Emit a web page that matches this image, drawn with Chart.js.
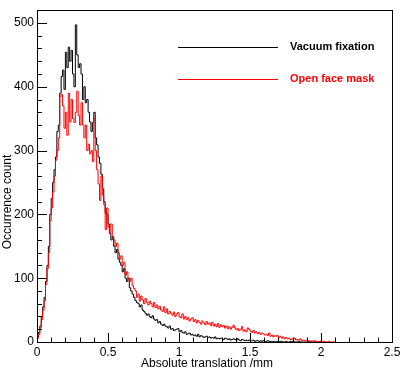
<!DOCTYPE html>
<html>
<head>
<meta charset="utf-8">
<script src="https://cdn.jsdelivr.net/npm/chart.js@4"></script>
<style>
  html, body { margin: 0; padding: 0; background: #fff; }
  canvas { display: block; }
</style>
</head>
<body>
<canvas id="chart" width="400" height="372"></canvas>
<script>
// histogram binning
const binWidth = 0.01;

// Vacuum fixation counts per 0.01 mm bin, starting at 0
const vacuumCounts = [
    3, 8, 15, 25, 40, 55, 70, 95, 120, 150,
    200, 225, 250, 270, 290, 330, 340, 390, 416, 426,
    396, 454, 430, 462, 440, 457, 420, 400, 497, 450,
    430, 436, 420, 380, 400, 375, 380, 360, 345, 330,
    344, 360, 320, 309, 290, 280, 263, 240, 220, 202,
    200, 185, 170, 160, 165, 150, 140, 145, 130, 125,
    120, 110, 115, 100, 95, 100, 85, 80, 75, 70,
    65, 62, 60, 55, 58, 50, 48, 45, 42, 44,
    40, 38, 41, 36, 34, 35, 30, 32, 28, 26,
    28, 25, 24, 22, 25, 20, 21, 18, 19, 20,
    21, 16, 18, 15, 14, 16, 12, 13, 14, 11,
    12, 10, 11, 9, 12, 8, 10, 9, 7, 8,
    9, 7, 8, 6, 7, 6, 8, 5, 6, 5,
    6, 5, 4, 6, 5, 4, 5, 3, 4, 5,
    4, 3, 5, 3, 2, 4, 3, 2, 3, 2,
    3, 2, 2, 3, 1, 2, 2, 1, 2, 1,
    2, 1, 1, 2, 1, 1, 0, 1, 1, 0,
    1, 0, 1, 1, 0, 0, 1, 0, 0, 1,
    0, 1, 0, 0, 0, 1, 0, 0, 0, 0,
    0, 0, 1, 0, 0, 0, 0, 0, 0, 0,
    1, 0
];

// Open face mask counts per 0.01 mm bin, starting at 0
const maskCounts = [
    2, 6, 12, 22, 35, 50, 65, 90, 115, 140,
    190, 210, 235, 260, 285, 300, 320, 385, 388, 370,
    335, 360, 324, 390, 345, 380, 350, 344, 360, 393,
    355, 340, 375, 340, 320, 340, 300, 310, 295, 300,
    283, 350, 300, 270, 248, 222, 260, 230, 215, 176,
    210, 180, 171, 185, 165, 160, 150, 155, 140, 130,
    135, 120, 125, 105, 110, 100, 95, 100, 88, 84,
    80, 70, 75, 64, 72, 66, 60, 68, 62, 58,
    64, 60, 55, 62, 54, 58, 52, 56, 50, 48,
    55, 46, 52, 44, 48, 45, 42, 47, 40, 44,
    46, 40, 38, 44, 36, 40, 35, 38, 33, 36,
    38, 32, 35, 30, 34, 31, 28, 33, 30, 27,
    32, 28, 30, 26, 31, 25, 28, 24, 29, 23,
    27, 24, 26, 22, 25, 21, 24, 20, 23, 26,
    22, 19, 21, 18, 20, 24, 17, 19, 16, 22,
    20, 17, 15, 18, 14, 16, 13, 15, 12, 14,
    13, 11, 12, 10, 14, 9, 11, 8, 10, 9,
    10, 7, 9, 6, 8, 5, 7, 5, 6, 4,
    5, 4, 6, 3, 4, 3, 5, 2, 3, 2,
    3, 2, 2, 1, 2, 1, 2, 1, 1, 0,
    1, 1, 0, 1, 0, 0, 1, 0, 0, 0
];

const seriesLabels = ["Vacuum fixation", "Open face mask"];
const seriesColors = ["#000000", "#ff0000"];

const xTicks = [0, 0.5, 1, 1.5, 2, 2.5];
const yTicks = [0, 100, 200, 300, 400, 500];
const xTitle = "Absolute translation /mm";
const yTitle = "Occurrence count";

const FONT = "'Liberation Sans', Arial, Helvetica, sans-serif";

// turn bin contents into step points (left edges + closing edge)
function toSteps(counts) {
    const pts = counts.map((v, i) => ({ x: i * binWidth, y: v }));
    pts.push({ x: counts.length * binWidth, y: 0 });
    return pts;
}

// ROOT-like frame: box, inward ticks, axis titles, legend
const rootFrame = {
    id: 'rootFrame',
    afterDraw(chart) {
        const ctx = chart.ctx;
        const a = chart.chartArea;
        const xs = chart.scales.x;
        const ys = chart.scales.y;
        ctx.save();
        ctx.strokeStyle = "#000";
        ctx.lineWidth = 1;
        ctx.strokeRect(Math.round(a.left) + 0.5, Math.round(a.top) + 0.5,
            Math.round(a.right - a.left), Math.round(a.bottom - a.top));

        ctx.beginPath();
        for (let v = 0; v <= 2.5001; v += 0.1) {
            const px = Math.round(xs.getPixelForValue(v)) + 0.5;
            const major = Math.abs(v / 0.5 - Math.round(v / 0.5)) < 1e-6;
            ctx.moveTo(px, a.bottom);
            ctx.lineTo(px, a.bottom - (major ? 9 : 4.5));
        }
        for (let v = 0; v <= 520; v += 20) {
            const py = Math.round(ys.getPixelForValue(v)) + 0.5;
            const major = v % 100 === 0;
            ctx.moveTo(a.left, py);
            ctx.lineTo(a.left + (major ? 10 : 5), py);
        }
        ctx.stroke();

        // axis titles
        ctx.fillStyle = "#000";
        ctx.font = "12px " + FONT;
        ctx.textAlign = "center";
        ctx.textBaseline = "middle";
        ctx.fillText(xTitle, 207, 364);
        ctx.save();
        ctx.translate(8, 202);
        ctx.rotate(-Math.PI / 2);
        ctx.fillText(yTitle, 0, 0);
        ctx.restore();

        // legend
        const legendY = [47, 79];
        chart.data.datasets.forEach((ds, i) => {
            ctx.strokeStyle = ds.borderColor;
            ctx.beginPath();
            ctx.moveTo(178, legendY[i] + 0.5);
            ctx.lineTo(278, legendY[i] + 0.5);
            ctx.stroke();
            ctx.fillStyle = ds.borderColor;
            ctx.font = "bold 11px " + FONT;
            ctx.textAlign = "left";
            ctx.fillText(ds.label, 290, legendY[i]);
        });
        ctx.restore();
    }
};

new Chart(document.getElementById("chart"), {
    type: 'line',
    data: {
        datasets: [
            {
                label: seriesLabels[0],
                data: toSteps(vacuumCounts),
                borderColor: seriesColors[0],
                borderWidth: 1,
                stepped: 'after',
                pointRadius: 0,
                fill: false,
                order: 1
            },
            {
                label: seriesLabels[1],
                data: toSteps(maskCounts),
                borderColor: seriesColors[1],
                borderWidth: 1,
                stepped: 'after',
                pointRadius: 0,
                fill: false,
                order: 0
            }
        ]
    },
    options: {
        responsive: false,
        animation: false,
        devicePixelRatio: 1,
        layout: { padding: { top: 1, right: 8, left: 0, bottom: 0 } },
        plugins: {
            legend: { display: false },
            tooltip: { enabled: false }
        },
        scales: {
            x: {
                type: 'linear',
                min: 0,
                max: 2.5,
                grid: { display: false, drawTicks: false, tickLength: 0 },
                border: { display: false },
                afterFit: (s) => { s.height = 30; s.paddingLeft = 0; s.paddingRight = 0; },
                afterBuildTicks: (s) => { s.ticks = xTicks.map(v => ({ value: v })); },
                ticks: {
                    padding: 3,
                    color: "#000",
                    maxRotation: 0,
                    autoSkip: false,
                    font: { family: FONT, size: 12 },
                    callback: (v) => String(v)
                }
            },
            y: {
                min: 0,
                max: 520,
                grid: { display: false, drawTicks: false, tickLength: 0 },
                border: { display: false },
                afterFit: (s) => { s.width = 37; },
                afterBuildTicks: (s) => { s.ticks = yTicks.map(v => ({ value: v })); },
                ticks: {
                    padding: 3,
                    color: "#000",
                    font: { family: FONT, size: 12 },
                    callback: (v) => String(v)
                }
            }
        }
    },
    plugins: [rootFrame]
});
</script>
</body>
</html>
